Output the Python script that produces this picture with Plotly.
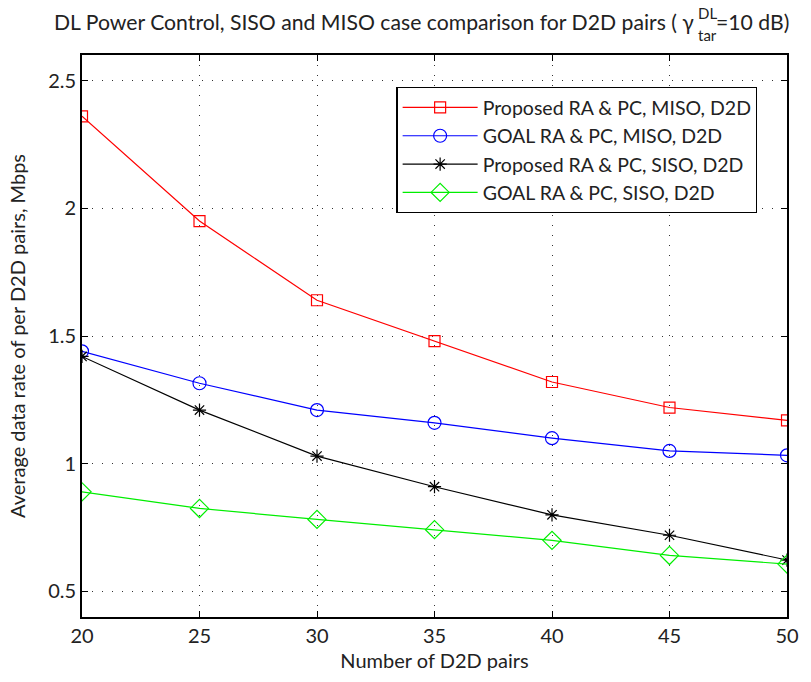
import plotly.graph_objects as go

x_pairs = [20, 25, 30, 35, 40, 45, 50]
prop_miso = [2.36, 1.95, 1.64, 1.48, 1.32, 1.22, 1.17]
goal_miso = [1.44, 1.315, 1.21, 1.16, 1.10, 1.05, 1.033]
prop_siso = [1.42, 1.21, 1.03, 0.91, 0.80, 0.72, 0.623]
goal_siso = [0.89, 0.825, 0.782, 0.742, 0.70, 0.641, 0.607]

series = [
    ("Proposed RA & PC, MISO, D2D", prop_miso, "#ff0000", "square-open", 11),
    ("GOAL RA & PC, MISO, D2D", goal_miso, "#0000ff", "circle-open", 13),
    ("Proposed RA & PC, SISO, D2D", prop_siso, "#000000", "asterisk-open", 11),
    ("GOAL RA & PC, SISO, D2D", goal_siso, "#00ee00", "diamond-open", 14),
]

FONT = "Lato"
FS = 20
TFS = 21.2
TXT = "#222"
fig = go.Figure()
for i, (name, ys, col, sym, sz) in enumerate(series):
    fig.add_trace(go.Scatter(
        x=x_pairs, y=ys, name=name, mode="lines+markers",
        line=dict(color=col, width=1.2),
        marker=dict(symbol=sym, size=sz, color=col, line=dict(color=col, width=1.2)),
    ))

axis_common = dict(
    showline=True, linecolor="black", linewidth=1.6, mirror="ticks",
    ticks="inside", ticklen=6, tickcolor="black",
    showgrid=True, gridcolor="#333", griddash="1px,9px", gridwidth=1,
    zeroline=False, tickfont=dict(family=FONT, size=FS, color=TXT),
)
fig.update_xaxes(range=[20, 50], tickvals=[20, 25, 30, 35, 40, 45, 50],
                 title=dict(text="Number of D2D pairs", font=dict(family=FONT, size=FS, color=TXT), standoff=8),
                 **axis_common)
fig.update_yaxes(range=[0.4, 2.6], tickvals=[0.5, 1, 1.5, 2, 2.5], ticktext=["0.5", "1", "1.5", "2", "2.5"],
                 title=dict(text="Average data rate of per D2D pairs, Mbps", font=dict(family=FONT, size=FS, color=TXT), standoff=17),
                 **axis_common)

# title pieces (gamma with stacked super/subscript)
fig.add_annotation(xref="paper", yref="paper", x=(703 - 82) / 713, y=1.0, yshift=55 - 22, xanchor="right", yanchor="middle",
                   text="DL Power Control, SISO and MISO case comparison for D2D pairs ( γ",
                   showarrow=False, font=dict(family=FONT, size=TFS, color=TXT))
fig.add_annotation(xref="paper", yref="paper", x=(703 - 82) / 713, y=1.0, yshift=55 - 13, xanchor="left", yanchor="middle",
                   text="DL", showarrow=False, font=dict(family=FONT, size=15, color=TXT))
fig.add_annotation(xref="paper", yref="paper", x=(703 - 82) / 713, y=1.0, yshift=55 - 35, xanchor="left", yanchor="middle",
                   text="tar", showarrow=False, font=dict(family=FONT, size=15, color=TXT))
fig.add_annotation(xref="paper", yref="paper", x=(721 - 82) / 713, y=1.0, yshift=55 - 22, xanchor="left", yanchor="middle",
                   text="=10 dB)", showarrow=False, font=dict(family=FONT, size=TFS, color=TXT))

fig.update_layout(
    width=811, height=682,
    margin=dict(l=82, r=16, t=55, b=65),
    paper_bgcolor="white", plot_bgcolor="white",
    showlegend=True,
    legend=dict(x=(400 - 82) / 713, y=(617 - 87) / 562, xanchor="left", yanchor="top",
                bordercolor="black", borderwidth=1.2, bgcolor="white",
                font=dict(family=FONT, size=19.5, color=TXT), itemwidth=75),
    font=dict(family=FONT),
)
fig.write_html("out.html")
